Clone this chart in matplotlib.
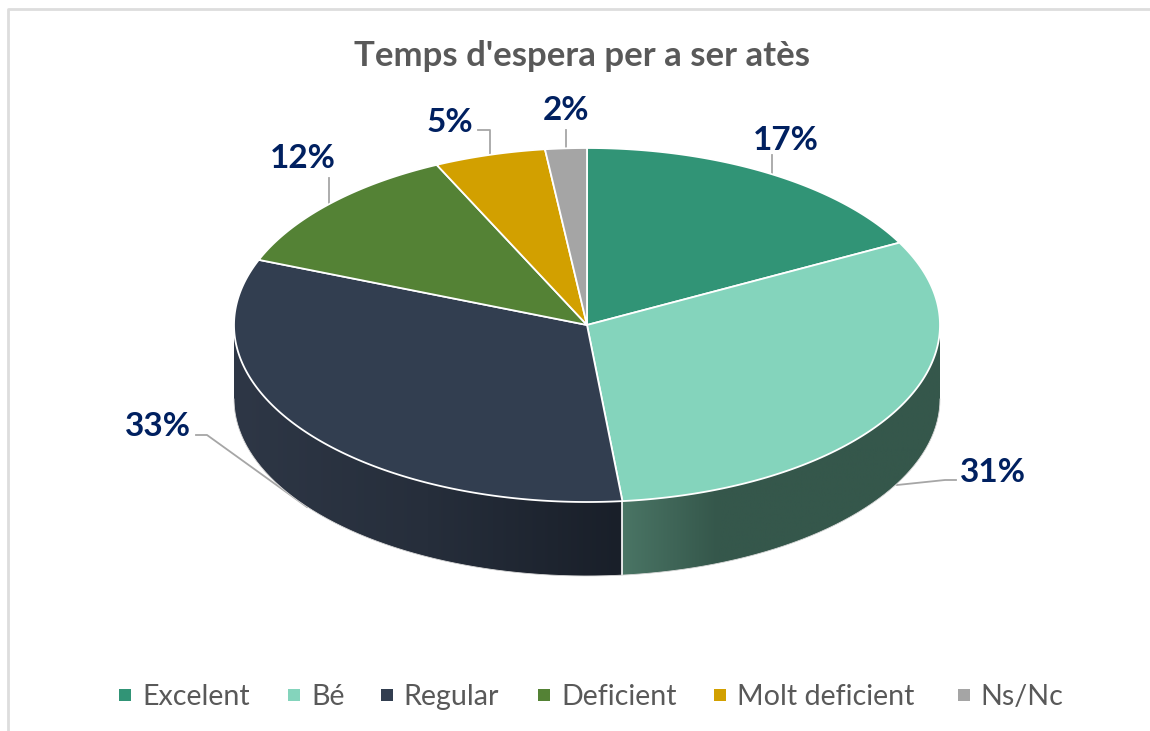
import numpy as np
import matplotlib
matplotlib.use("Agg")
import matplotlib.pyplot as plt
from matplotlib.colors import LinearSegmentedColormap
from matplotlib.patches import Polygon, Rectangle

categories = ["Excelent", "Bé", "Regular", "Deficient", "Molt deficient", "Ns/Nc"]
values = [17.3, 31.1, 32.6, 12.0, 5.1, 1.9]
pct_labels = ["17%", "31%", "33%", "12%", "5%", "2%"]
colors = ["#319476", "#84D4BC", "#323E50", "#548235", "#D2A000", "#A5A5A5"]

plt.rcParams["font.family"] = ["Lato", "DejaVu Sans"]

cx, cy, rx, ry, depth = 587, 325, 353, 177, 74


def ellipse(a, b, dy=0, n=200):
    t = np.radians(np.linspace(a, b, n))
    return np.column_stack([cx + rx * np.sin(t), cy + dy - ry * np.cos(t)])


fig = plt.figure(figsize=(11.5, 7.31), dpi=100)
ax = fig.add_axes([0, 0, 1, 1])
ax.set_xlim(0, 1150)
ax.set_ylim(731, 0)
ax.axis("off")

# chart frame
ax.plot([8, 8, 1150], [731, 9, 9], color="#DDDDDD", lw=2)

angles = np.concatenate([[0], np.cumsum(values) / sum(values) * 360])

# leader lines go under the pie
leaders = [
    [(772, 155), (772, 178)],
    [(897, 485), (945, 480), (956, 480)],
    [(196, 435), (207, 435), (307, 507)],
    [(329, 178), (329, 208)],
    [(478, 130), (490, 130), (490, 157)],
    [(566, 130), (566, 151)],
]
for pts in leaders:
    xs, ys = zip(*pts)
    ax.plot(xs, ys, color="#A6A6A6", lw=1.3, zorder=1)

# side wall, only the front half shows
wall_cmaps = {
    1: [(0, "#4A7565"), (0.3, "#35574B"), (1, "#35574B")],
    2: [(0, "#2E3746"), (0.5, "#262E3B"), (1, "#191F29")],
}
for i in range(len(values)):
    a = max(angles[i], 90)
    b = min(angles[i + 1], 270)
    if a >= b:
        continue
    wall = np.vstack([ellipse(a, b), ellipse(b, a, depth)])
    poly = Polygon(wall, closed=True, fc="none", ec="none", zorder=2)
    ax.add_patch(poly)
    x0, x1 = wall[:, 0].min(), wall[:, 0].max()
    cmap = LinearSegmentedColormap.from_list("s", wall_cmaps[i])
    im = ax.imshow(np.linspace(0, 1, 256)[None, :], cmap=cmap, aspect="auto",
                   extent=[x0, x1, 600, 300], zorder=2)
    im.set_clip_path(poly)
ax.set_xlim(0, 1150)
ax.set_ylim(731, 0)

# white seams on the wall
for ang in angles[1:-1]:
    if 90 < ang < 270:
        p = ellipse(ang, ang, n=1)[0]
        ax.plot([p[0], p[0]], [p[1], p[1] + depth], color="white", lw=1.2, zorder=3)
ax.plot(*ellipse(90, 270, depth).T, color="#D9D9D9", lw=0.6, zorder=3)

# top face
for i in range(len(values)):
    rim = ellipse(angles[i], angles[i + 1])
    ax.add_patch(Polygon(np.vstack([[cx, cy], rim]), closed=True, fc=colors[i],
                         ec="white", lw=1.3, joinstyle="round", zorder=4))

# percent labels
label_pos = [(786, 141), (993, 472), (158, 426), (303, 159), (450, 122), (566, 111)]
for txt, (x, y) in zip(pct_labels, label_pos):
    ax.text(x, y, txt, color="#002060", fontsize=24, fontweight="bold",
            ha="center", va="center", zorder=6)

ax.text(582, 56, "Temps d'espera per a ser atès", color="#595959", fontsize=25,
        fontweight="bold", ha="center", va="center")

# legend
swatch_x = [119, 288, 381, 538, 714, 958]
text_x = [142, 311, 403, 561, 737, 980]
for name, col, sx, tx in zip(categories, colors, swatch_x, text_x):
    ax.add_patch(Rectangle((sx, 689), 12, 12, fc=col, ec="none"))
    ax.text(tx, 705, name, color="#595959", fontsize=20.6, ha="left", va="baseline")

fig.savefig("out.png", dpi=100)
plt.close()
